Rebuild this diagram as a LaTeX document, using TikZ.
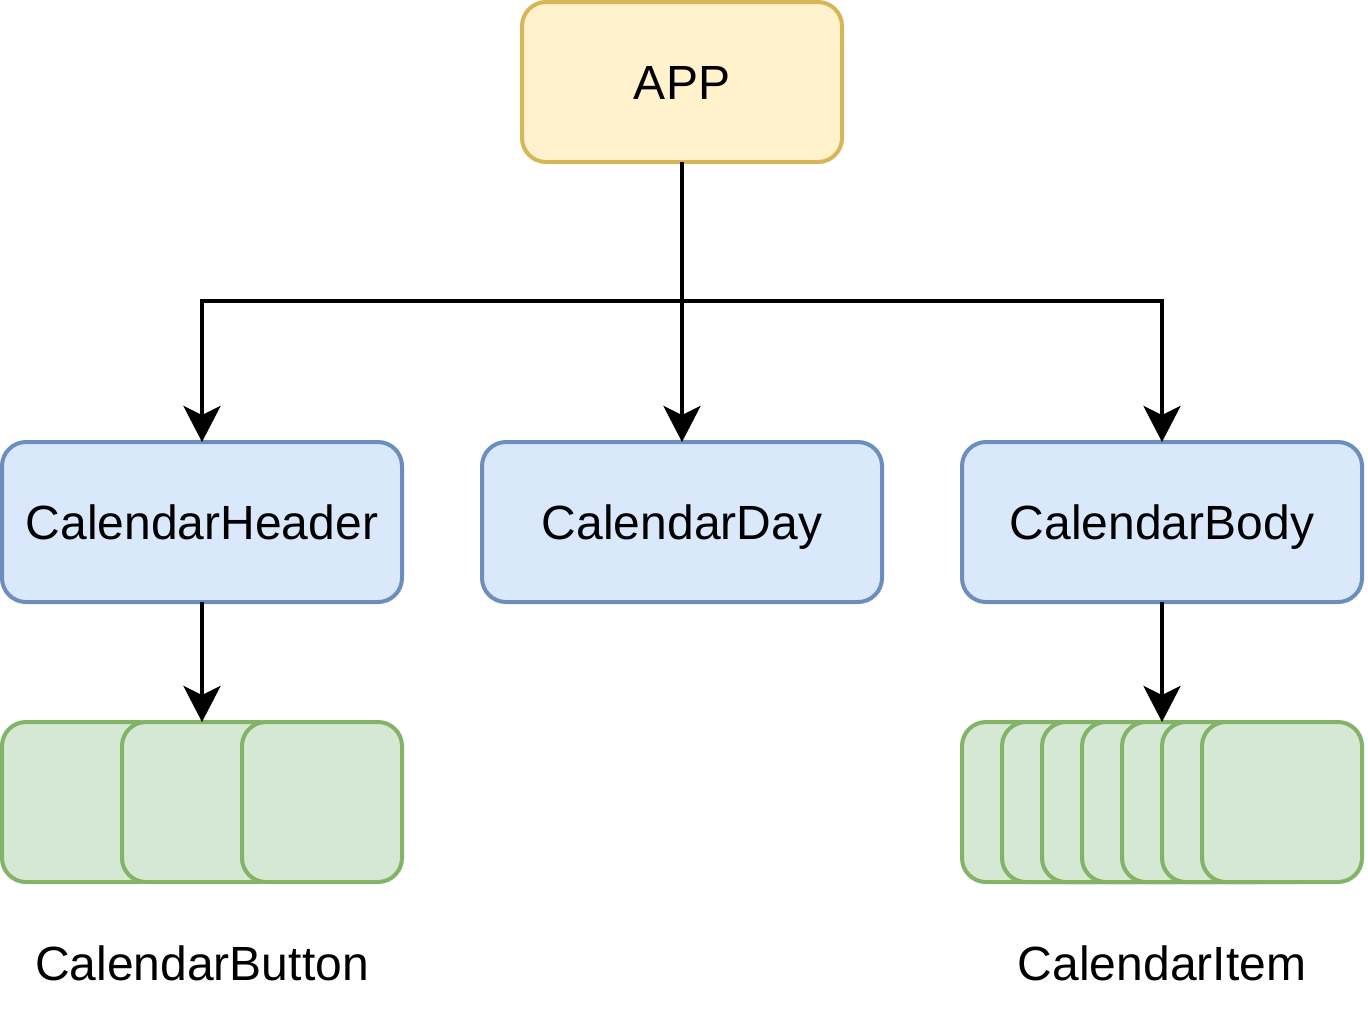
\documentclass[tikz,border=0pt]{standalone}
\usepackage{fontspec}
\setmainfont{Liberation Sans}
\usetikzlibrary{arrows.meta}
\definecolor{appfill}{HTML}{FFF2CC}
\definecolor{appdraw}{HTML}{D6B656}
\definecolor{bluefill}{HTML}{DAE8FC}
\definecolor{bluedraw}{HTML}{6C8EBF}
\definecolor{greenfill}{HTML}{D5E8D4}
\definecolor{greendraw}{HTML}{82B366}
\tikzset{
  base/.style={rectangle, rounded corners=12pt, line width=2pt, inner sep=0pt, outer sep=0pt,
    font=\fontsize{24}{28.8}\selectfont, text height=17.2pt, text depth=0pt, align=center},
  appbox/.style={base, fill=appfill, draw=appdraw, minimum width=160pt, minimum height=80pt},
  bluebox/.style={base, fill=bluefill, draw=bluedraw, minimum width=200pt, minimum height=80pt},
  greenbox/.style={base, fill=greenfill, draw=greendraw, minimum width=80pt, minimum height=80pt},
  lbl/.style={inner sep=0pt, font=\fontsize{24}{28.8}\selectfont, text height=17.2pt, text depth=0pt},
  arr/.style={line width=2pt, -{Stealth[length=18pt, width=18.5pt, inset=4.5pt]}}
}
\begin{document}
\begin{tikzpicture}[x=0.5pt, y=-0.5pt]
\useasboundingbox (0,0) rectangle (1368,1008);
\node[appbox] (app) at (682,82) {APP};
\node[bluebox] (ch) at (202,522) {CalendarHeader};
\node[bluebox] (cd) at (682,522) {CalendarDay};
\node[bluebox] (cb) at (1162,522) {CalendarBody};
% buttons
\node[greenbox] (b1) at (82,802) {};
\node[greenbox] (b2) at (202,802) {};
\node[greenbox] (b3) at (322,802) {};
% items
\node[greenbox] (i1) at (1042,802) {};
\node[greenbox] (i2) at (1082,802) {};
\node[greenbox] (i3) at (1122,802) {};
\node[greenbox] (i4) at (1162,802) {};
\node[greenbox] (i5) at (1202,802) {};
\node[greenbox] (i6) at (1242,802) {};
\node[greenbox] (i7) at (1282,802) {};
\node[lbl] (lb) at (202,963) {CalendarButton};
\node[lbl] (li) at (1162,963) {CalendarItem};
\coordinate (j) at (682,301);
\draw[arr] (app.south) -- (j) -| (ch.north);
\draw[arr] (app.south) -- (cd.north);
\draw[arr] (j) -| (cb.north);
\draw[arr] (ch.south) -- (b2.north);
\draw[arr] (cb.south) -- (i4.north);
\end{tikzpicture}
\end{document}
